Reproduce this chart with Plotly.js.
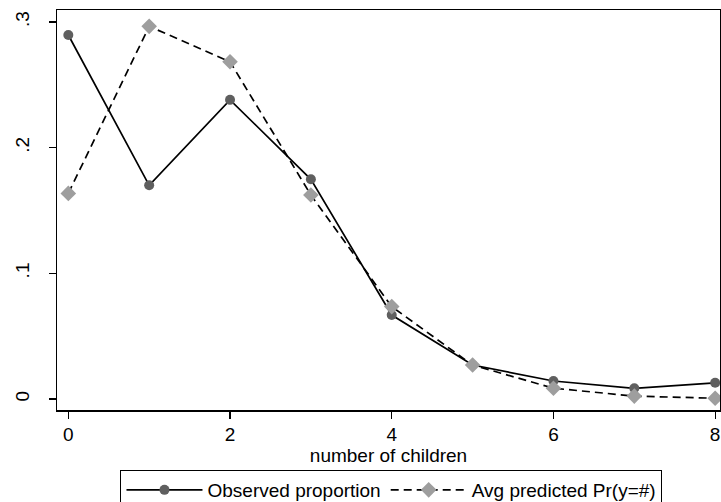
<!DOCTYPE html>
<html>
<head>
<meta charset="utf-8">
<script src="https://cdn.plot.ly/plotly-3.0.1.min.js"></script>
<style>html,body{margin:0;padding:0;background:#fff;}#chart{width:721px;height:502px;}</style>
</head>
<body>
<div id="chart"></div>
<script>
var children = [0, 1, 2, 3, 4, 5, 6, 7, 8];
var observed = [0.2896, 0.170, 0.238, 0.1748, 0.0668, 0.027, 0.0143, 0.0085, 0.0129];
var predicted = [0.1636, 0.2965, 0.2683, 0.1623, 0.0735, 0.0270, 0.0086, 0.0023, 0.0006];
var yTickVals = [0, 0.1, 0.2, 0.3];
var yTickText = ['0', '.1', '.2', '.3'];
var xTickVals = [0, 2, 4, 6, 8];

var FONT = 'Liberation Sans, Arial, Helvetica, sans-serif';
var FS = 19;

var traces = [
  {
    x: children, y: observed, name: 'Observed proportion',
    type: 'scatter', mode: 'lines+markers',
    line: {color: '#000000', width: 1.7, dash: 'solid'},
    marker: {symbol: 'circle', size: 10, color: '#5f5f5f'}
  },
  {
    x: children, y: predicted, name: 'Avg predicted Pr(y=#)',
    type: 'scatter', mode: 'lines+markers',
    line: {color: '#000000', width: 1.7, dash: '8px,5px'},
    marker: {symbol: 'diamond', size: 12, color: '#9e9e9e'}
  }
];

var layout = {
  width: 721, height: 502,
  paper_bgcolor: '#ffffff', plot_bgcolor: '#ffffff',
  margin: {l: 57, r: 1, t: 10, b: 92, autoexpand: false},
  font: {family: FONT, size: FS, color: '#000000'},
  showlegend: true,
  xaxis: {
    range: [-0.14, 8.06],
    tickvals: xTickVals,
    ticks: 'outside', ticklen: 7, tickwidth: 1.3, tickcolor: '#000',
    showline: true, mirror: true, linecolor: '#000', linewidth: 1.5,
    showgrid: false, zeroline: false,
    tickfont: {family: FONT, size: FS},
    title: {text: 'number of children', font: {family: FONT, size: FS}, standoff: 0}
  },
  yaxis: {
    range: [-0.00875, 0.3095],
    tickvals: yTickVals, ticktext: yTickText,
    ticks: 'outside', ticklen: 7, tickwidth: 1.3, tickcolor: '#000',
    tickangle: -90,
    ticklabelstandoff: 12,
    showline: true, mirror: true, linecolor: '#000', linewidth: 1.5,
    showgrid: false, zeroline: false,
    tickfont: {family: FONT, size: FS}
  },
  legend: {
    orientation: 'h',
    x: 0.5045, xanchor: 'center',
    y: -0.15, yanchor: 'top',
    bordercolor: '#000', borderwidth: 1,
    bgcolor: '#fff',
    font: {family: FONT, size: FS},
    itemwidth: 76
  }
};

Plotly.newPlot('chart', traces, layout, {displayModeBar: false, staticPlot: true});
</script>
</body>
</html>
